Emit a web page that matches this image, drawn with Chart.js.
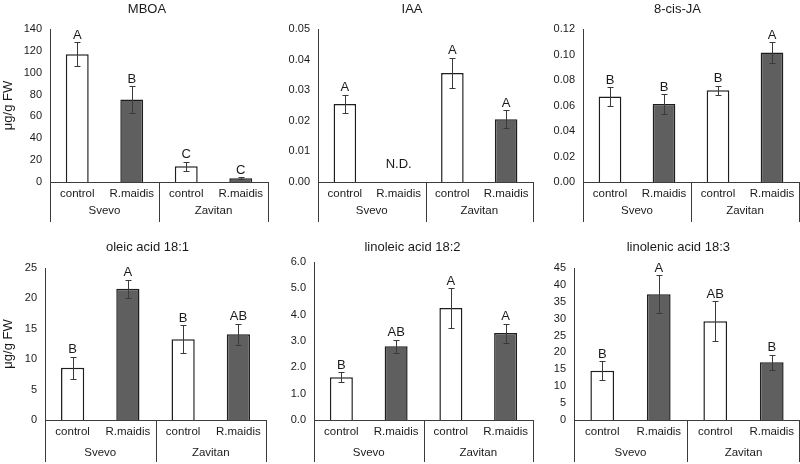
<!DOCTYPE html>
<html>
<head>
<meta charset="utf-8">
<script src="https://cdn.jsdelivr.net/npm/chart.js@4.4.1/dist/chart.umd.min.js"></script>
<style>
  html, body { margin: 0; padding: 0; background: #fff; }
  #wrap { position: relative; width: 800px; height: 464px; overflow: hidden; }
  #wrap canvas { position: absolute; }
</style>
</head>
<body>
<div id="wrap"></div>
<script>
// data
const categories = ['control', 'R.maidis', 'control', 'R.maidis'];
const cultivars = ['Svevo', 'Zavitan'];
const titles = ['MBOA', 'IAA', '8-cis-JA', 'oleic acid 18:1', 'linoleic acid 18:2', 'linolenic acid 18:3'];
const yLabel = 'μg/g FW';

const mboaMean = [117, 75.5, 14.5, 3.5];
const mboaErr = [11, 12, 4, 1];
const mboaLetters = ['A', 'B', 'C', 'C'];

const iaaMean = [0.0255, null, 0.0356, 0.0205];
const iaaErr = [0.003, null, 0.005, 0.003];
const iaaLetters = ['A', 'N.D.', 'A', 'A'];

const jaMean = [0.067, 0.0612, 0.072, 0.1016];
const jaErr = [0.0075, 0.0075, 0.0035, 0.008];
const jaLetters = ['B', 'B', 'B', 'A'];

const oleicMean = [8.6, 21.6, 13.3, 14.1];
const oleicErr = [1.8, 1.5, 2.3, 1.7];
const oleicLetters = ['B', 'A', 'B', 'AB'];

const linoleicMean = [1.62, 2.8, 4.25, 3.3];
const linoleicErr = [0.19, 0.24, 0.75, 0.36];
const linoleicLetters = ['B', 'AB', 'A', 'A'];

const linolenicMean = [14.6, 37.2, 29.2, 17.1];
const linolenicErr = [2.8, 5.6, 5.9, 2.2];
const linolenicLetters = ['B', 'A', 'AB', 'B'];

const yMax = [140, 0.05, 0.12, 25, 6, 45];
const yStep = [20, 0.01, 0.02, 5, 1, 5];
const yDigits = [0, 2, 2, 0, 1, 0];

const panels = [
  { mean: mboaMean, err: mboaErr, letters: mboaLetters },
  { mean: iaaMean, err: iaaErr, letters: iaaLetters },
  { mean: jaMean, err: jaErr, letters: jaLetters },
  { mean: oleicMean, err: oleicErr, letters: oleicLetters },
  { mean: linoleicMean, err: linoleicErr, letters: linoleicLetters },
  { mean: linolenicMean, err: linolenicErr, letters: linolenicLetters }
];

// where each small chart sits on the page
const boxes = [
  { left: 0,   top: 0,   w: 270, h: 232, yW: 50, padR: 2, padT: 29, padB: 10, axisH: 40, titleX: 147,   titleY: 9,  groupY: 29, yTitle: true },
  { left: 270, top: 0,   w: 265, h: 232, yW: 48, padR: 2, padT: 29, padB: 10, axisH: 40, titleX: 142,   titleY: 9,  groupY: 29, yTitle: false },
  { left: 535, top: 0,   w: 265, h: 232, yW: 48, padR: 1, padT: 29, padB: 10, axisH: 40, titleX: 142.5, titleY: 9,  groupY: 29, yTitle: false },
  { left: 0,   top: 232, w: 270, h: 232, yW: 45, padR: 4, padT: 36, padB: 2,  axisH: 42, titleX: 147.5, titleY: 15, groupY: 33, yTitle: true },
  { left: 270, top: 232, w: 265, h: 232, yW: 44, padR: 2, padT: 30, padB: 2,  axisH: 42, titleX: 142.5, titleY: 15, groupY: 33, yTitle: false },
  { left: 535, top: 232, w: 265, h: 232, yW: 39, padR: 0, padT: 36, padB: 2,  axisH: 42, titleX: 143.3, titleY: 15, groupY: 33, yTitle: false }
];

const FONT = '"Liberation Sans", Arial, sans-serif';
const INK = '#1a1a1a';
const LINE = '#3c3c3c';
Chart.defaults.font.family = FONT;
Chart.defaults.color = INK;

// error bars, letters, group row, separators, titles
const decor = {
  id: 'decor',
  afterDatasetsDraw(chart, args, o) {
    const ctx = chart.ctx, x = chart.scales.x, y = chart.scales.y;
    ctx.save();
    ctx.strokeStyle = '#3a3a3a';
    ctx.lineWidth = 1;
    ctx.beginPath();
    o.mean.forEach((m, i) => {
      if (m === null) return;
      const xx = Math.round(x.getPixelForValue(i)) + 0.5;
      const t = Math.round(y.getPixelForValue(m + o.err[i])) + 0.5;
      const b = Math.round(y.getPixelForValue(m - o.err[i])) + 0.5;
      ctx.moveTo(xx, t); ctx.lineTo(xx, b);
      ctx.moveTo(xx - 3, t); ctx.lineTo(xx + 3, t);
      ctx.moveTo(xx - 3, b); ctx.lineTo(xx + 3, b);
    });
    ctx.stroke();

    ctx.fillStyle = INK;
    ctx.font = '13px ' + FONT;
    ctx.textAlign = 'center';
    ctx.textBaseline = 'alphabetic';
    o.letters.forEach((txt, i) => {
      const m = o.mean[i];
      const yy = m === null ? y.getPixelForValue(0) - 14 : y.getPixelForValue(m + o.err[i]) - 3.5;
      ctx.fillText(txt, x.getPixelForValue(i), yy);
    });
    ctx.restore();
  },
  afterDraw(chart, args, o) {
    const ctx = chart.ctx, area = chart.chartArea;
    const l = area.left, r = area.right, mid = (l + r) / 2;
    ctx.save();
    ctx.strokeStyle = LINE;
    ctx.lineWidth = 1;
    ctx.beginPath();
    [l, mid, r].forEach(px => {
      const xx = Math.min(Math.round(px) + 0.5, chart.width - 0.5);
      ctx.moveTo(xx, area.bottom);
      ctx.lineTo(xx, area.bottom + o.sepLen);
    });
    ctx.stroke();

    ctx.fillStyle = INK;
    ctx.font = '11.5px ' + FONT;
    ctx.textAlign = 'center';
    ctx.textBaseline = 'middle';
    ctx.fillText(cultivars[0], (l + mid) / 2, area.bottom + o.groupY);
    ctx.fillText(cultivars[1], (mid + r) / 2, area.bottom + o.groupY);

    ctx.font = '13px ' + FONT;
    ctx.fillText(o.title, o.titleX, o.titleY);
    ctx.restore();
  }
};

const wrap = document.getElementById('wrap');

panels.forEach((p, k) => {
  const b = boxes[k];
  const canvas = document.createElement('canvas');
  canvas.width = b.w;
  canvas.height = b.h;
  canvas.style.left = b.left + 'px';
  canvas.style.top = b.top + 'px';
  canvas.style.width = b.w + 'px';
  canvas.style.height = b.h + 'px';
  wrap.appendChild(canvas);

  new Chart(canvas.getContext('2d'), {
    type: 'bar',
    data: {
      labels: categories,
      datasets: [{
        data: p.mean,
        backgroundColor: ['#ffffff', '#5f5f5f', '#ffffff', '#5f5f5f'],
        borderColor: '#1e1e1e',
        borderWidth: 1.5,
        barPercentage: 0.42,
        categoryPercentage: 1
      }]
    },
    options: {
      responsive: false,
      animation: false,
      devicePixelRatio: 1,
      layout: { padding: { left: 0, right: b.padR, top: b.padT, bottom: b.padB } },
      plugins: {
        legend: { display: false },
        tooltip: { enabled: false },
        decor: {
          mean: p.mean, err: p.err, letters: p.letters,
          title: titles[k], titleX: b.titleX, titleY: b.titleY,
          groupY: b.groupY, sepLen: b.axisH
        }
      },
      scales: {
        x: {
          grid: { display: false, drawTicks: false },
          border: { display: true, color: LINE, width: 1 },
          ticks: { autoSkip: false, maxRotation: 0, padding: 5, font: { size: 11.5 }, color: INK },
          afterFit: s => { s.height = b.axisH; }
        },
        y: {
          min: 0,
          max: yMax[k],
          grid: { display: false, drawTicks: false },
          border: { display: true, color: LINE, width: 1 },
          ticks: {
            stepSize: yStep[k],
            padding: 8,
            font: { size: 11 },
            color: INK,
            callback: v => Number(v).toFixed(yDigits[k])
          },
          title: {
            display: b.yTitle,
            text: yLabel,
            font: { size: 13 },
            color: INK,
            padding: { top: 1, bottom: 0 }
          },
          afterFit: s => { s.width = b.yW; }
        }
      }
    },
    plugins: [decor]
  });
});
</script>
</body>
</html>
